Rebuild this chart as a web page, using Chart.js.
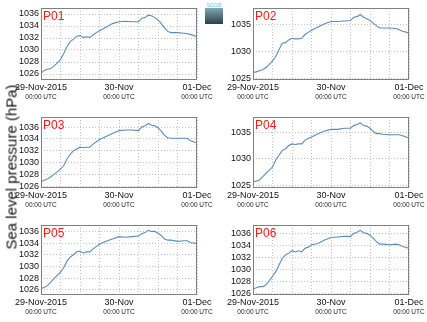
<!DOCTYPE html>
<html>
<head>
<meta charset="utf-8">
<script src="https://cdn.jsdelivr.net/npm/chart.js@4.4.0/dist/chart.umd.min.js"></script>
<style>
  body { margin: 0; background: #fff; }
  #wrap { position: relative; width: 427px; height: 322px; overflow: hidden; font-family: "Liberation Sans", Arial, sans-serif; }
  #wrap canvas { position: absolute; left: 0; top: 0; }
  #ytitle { position: absolute; left: 11px; top: 167px; transform: translate(-50%, -50%) rotate(-90deg); white-space: nowrap; font-size: 15px; font-weight: normal; color: #111; }
  #logo { position: absolute; left: 205px; top: 3px; width: 18px; }
  #logo span { display: block; font-size: 5px; line-height: 5px; color: #6cc4dc; text-align: center; letter-spacing: -0.2px; }
  #logo div { height: 16px; background: linear-gradient(#7ea8b4, #2d3f4a); }
</style>
</head>
<body>
<div id="wrap">
  <canvas id="p01" width="427" height="322"></canvas>
  <canvas id="p02" width="427" height="322"></canvas>
  <canvas id="p03" width="427" height="322"></canvas>
  <canvas id="p04" width="427" height="322"></canvas>
  <canvas id="p05" width="427" height="322"></canvas>
  <canvas id="p06" width="427" height="322"></canvas>
  <div id="ytitle">Sea level pressure (hPa)</div>
  <div id="logo"><span>SOCIB</span><div></div></div>
</div>
<script>
// hours since 29-Nov-2015 00:00 UTC
const hours = [0, 1, 2, 3, 4, 6, 7, 8, 9, 10, 11, 12, 13, 14, 15, 16, 17, 18, 20, 22, 24, 26, 28, 30,
               31, 32, 33, 34, 35, 36, 37, 38, 39, 40, 42, 44, 45, 46, 48];

const p01 = [1026.1, 1026.6, 1026.8, 1026.9, 1027.3, 1028.4, 1029.4, 1030.6, 1031.4, 1031.8, 1032.3, 1032.4, 1032.1,
             1032.2, 1032.1, 1032.5, 1032.9, 1033.2, 1033.8, 1034.4, 1034.7, 1034.8, 1034.7, 1034.7,
             1035.3, 1035.4, 1035.8, 1035.7, 1035.4, 1035.0, 1034.4, 1033.7, 1033.1, 1032.9, 1032.9, 1032.8, 1032.7, 1032.6, 1032.2];
const p02 = [1026.2, 1026.3, 1026.5, 1026.7, 1027.1, 1028.3, 1029.2, 1030.4, 1031.6, 1031.7, 1032.2, 1032.5, 1032.4,
             1032.4, 1032.5, 1033.2, 1033.6, 1034.0, 1034.6, 1035.2, 1035.6, 1035.6, 1035.7, 1035.8,
             1036.4, 1036.5, 1036.9, 1036.4, 1036.1, 1035.8, 1035.3, 1034.8, 1034.4, 1034.4, 1034.4, 1034.3, 1034.1, 1033.8, 1033.5];
const p03 = [1026.8, 1027.0, 1027.2, 1027.6, 1028.0, 1028.9, 1029.5, 1030.6, 1031.4, 1032.0, 1032.3, 1032.6, 1032.5,
             1032.6, 1032.6, 1033.1, 1033.5, 1033.9, 1034.4, 1034.9, 1035.4, 1035.5, 1035.5, 1035.4,
             1036.0, 1036.2, 1036.6, 1036.3, 1036.2, 1035.9, 1035.3, 1034.6, 1034.2, 1034.1, 1034.1, 1034.1, 1034.1, 1033.7, 1033.3];
const p04 = [1025.7, 1025.9, 1026.1, 1026.7, 1027.3, 1028.5, 1029.8, 1030.7, 1031.6, 1031.9, 1032.5, 1032.8, 1032.7,
             1032.8, 1032.8, 1033.5, 1033.8, 1034.1, 1034.7, 1035.2, 1035.5, 1035.5, 1035.7, 1035.7,
             1036.2, 1036.4, 1036.7, 1036.2, 1036.1, 1035.7, 1035.1, 1034.7, 1034.7, 1034.6, 1034.5, 1034.5, 1034.5, 1034.3, 1033.9];
const p05 = [1026.2, 1026.4, 1026.7, 1027.3, 1027.9, 1029.0, 1029.8, 1030.9, 1031.6, 1032.0, 1032.5, 1032.6, 1032.3,
             1032.5, 1032.5, 1033.0, 1033.4, 1033.8, 1034.3, 1034.7, 1035.1, 1035.0, 1035.1, 1035.2,
             1035.6, 1035.8, 1036.2, 1036.0, 1036.0, 1035.7, 1035.3, 1034.7, 1034.5, 1034.5, 1034.3, 1034.4, 1034.4, 1034.1, 1033.9];
const p06 = [1026.7, 1026.9, 1027.1, 1027.1, 1027.4, 1028.8, 1029.6, 1030.7, 1031.8, 1032.4, 1032.7, 1033.1, 1032.9,
             1033.1, 1032.9, 1033.5, 1033.7, 1034.1, 1034.3, 1034.9, 1035.3, 1035.4, 1035.5, 1035.5,
             1036.0, 1036.2, 1036.5, 1036.1, 1036.0, 1035.7, 1035.2, 1034.6, 1034.2, 1034.2, 1034.1, 1034.2, 1034.1, 1033.8, 1033.5];

// axis ticks
const gridHours = [0, 6, 12, 18, 24, 30, 36, 42, 48];
const dayHours = [0, 24, 48];
const dayLabels = ['29-Nov-2015', '30-Nov', '01-Dec'];
const timeLabels = ['00:00 UTC', '00:00 UTC', '00:00 UTC'];
const ticksBy2 = [1026, 1028, 1030, 1032, 1034, 1036];
const ticksBy5 = [1025, 1030, 1035];

const FONT = '"Liberation Sans", Arial, sans-serif';
const LINE = '#5a8cc2';
const GRID = '#c2c2c2';
const Y_AXIS_W = 40, X_AXIS_H = 12, X2_AXIS_H = 10;

// box around the plot area + red panel name in the corner
const framePlugin = {
    id: 'frame',
    afterDatasetsDraw(chart, args, opts) {
        const { ctx, chartArea: a } = chart;
        ctx.save();
        ctx.strokeStyle = '#808080';
        ctx.lineWidth = 1;
        ctx.strokeRect(Math.round(a.left) + 0.5, Math.round(a.top) + 0.5,
                       Math.round(a.width) - 1, Math.round(a.height) - 1);
        ctx.fillStyle = '#ff1a1a';
        ctx.font = '12px ' + FONT;
        ctx.textBaseline = 'alphabetic';
        ctx.fillText(opts.label, a.left + 2, a.top + 11.5);
        ctx.restore();
    }
};

function makePanel(id, label, values, yMin, yMax, yTicks, area) {
    new Chart(document.getElementById(id), {
        type: 'line',
        data: {
            datasets: [{
                data: hours.map((h, i) => ({ x: h, y: values[i] })),
                borderColor: LINE,
                borderWidth: 1.1,
                pointRadius: 0,
                tension: 0,
                fill: false
            }]
        },
        options: {
            responsive: false,
            animation: false,
            events: [],
            layout: {
                padding: {
                    left: area.left - Y_AXIS_W,
                    top: area.top,
                    right: 427 - area.right,
                    bottom: 322 - area.bottom - X_AXIS_H - X2_AXIS_H
                }
            },
            plugins: {
                legend: { display: false },
                tooltip: { enabled: false },
                frame: { label: label }
            },
            scales: {
                x: {
                    type: 'linear', min: 0, max: 48, position: 'bottom', weight: 0,
                    afterBuildTicks: s => { s.ticks = gridHours.map(v => ({ value: v })); },
                    afterFit: s => { s.height = X_AXIS_H; s.paddingLeft = 0; s.paddingRight = 0; },
                    ticks: {
                        autoSkip: false, maxRotation: 0, padding: 2, color: '#111',
                        font: { size: 9, family: FONT },
                        callback: v => { const i = dayHours.indexOf(v); return i < 0 ? '' : dayLabels[i]; }
                    },
                    grid: { color: GRID, lineWidth: 1, drawTicks: false },
                    border: { display: false, dash: [1, 2] }
                },
                x2: {
                    type: 'linear', min: 0, max: 48, position: 'bottom', weight: 1,
                    afterBuildTicks: s => { s.ticks = dayHours.map(v => ({ value: v })); },
                    afterFit: s => { s.height = X2_AXIS_H; s.paddingLeft = 0; s.paddingRight = 0; },
                    ticks: {
                        autoSkip: false, maxRotation: 0, padding: 1, color: '#222',
                        font: { size: 6.5, family: FONT },
                        callback: v => { const i = dayHours.indexOf(v); return i < 0 ? '' : timeLabels[i]; }
                    },
                    grid: { display: false, drawTicks: false },
                    border: { display: false }
                },
                y: {
                    min: yMin, max: yMax,
                    afterBuildTicks: s => { s.ticks = yTicks.map(v => ({ value: v })); },
                    afterFit: s => { s.width = Y_AXIS_W; s.paddingTop = 0; s.paddingBottom = 0; },
                    ticks: {
                        padding: 2, color: '#111', font: { size: 9, family: FONT },
                        callback: v => String(v)
                    },
                    grid: { color: GRID, lineWidth: 1, drawTicks: false },
                    border: { display: false, dash: [1, 2] }
                }
            }
        },
        plugins: [framePlugin]
    });
}

const col1 = { left: 41, right: 197 }, col2 = { left: 253, right: 409 };
const row1 = { top: 8, bottom: 80 }, row2 = { top: 117, bottom: 188 }, row3 = { top: 225, bottom: 295 };

makePanel('p01', 'P01', p01, 1025.0, 1037.0, ticksBy2, { ...col1, ...row1 });
makePanel('p02', 'P02', p02, 1024.8, 1038.1, ticksBy5, { ...col2, ...row1 });
makePanel('p03', 'P03', p03, 1025.7, 1037.7, ticksBy2, { ...col1, ...row2 });
makePanel('p04', 'P04', p04, 1024.6, 1037.8, ticksBy5, { ...col2, ...row2 });
makePanel('p05', 'P05', p05, 1025.1, 1037.1, ticksBy2, { ...col1, ...row3 });
makePanel('p06', 'P06', p06, 1025.7, 1037.4, ticksBy2, { ...col2, ...row3 });
</script>
</body>
</html>
